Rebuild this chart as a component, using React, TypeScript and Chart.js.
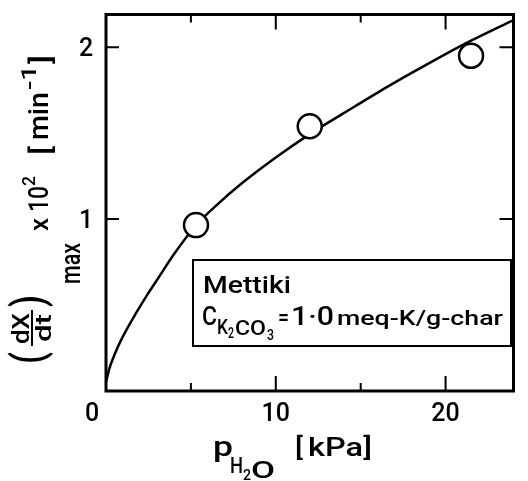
import { useEffect, useRef } from "react";
import { Chart, registerables } from "chart.js";

Chart.register(...registerables);

// fitted curve
const curveX = [0, 0.23, 0.7, 1.2, 1.75, 2.4, 3.1, 4, 5.3, 6.5, 8, 10, 12, 14, 16, 18, 20, 21.5, 24];
const curveY = [0.054, 0.14, 0.257, 0.355, 0.45, 0.555, 0.66, 0.795, 0.964, 1.08, 1.208, 1.358, 1.494, 1.616, 1.736, 1.85, 1.96, 2.038, 2.158];
// measured points
const pointX = [5.3, 12.0, 21.5];
const pointY = [0.965, 1.54, 1.95];
// ticks
const xTicks = [0, 10, 20];
const xMinorTicks = [5, 15];
const yTicks = [1, 2];

const FONT = 'Roboto, "Liberation Sans", Arial, sans-serif';
const WEIGHT = 500;

function fitText(ctx: CanvasRenderingContext2D, s: string, x: number, y: number, size: number, width?: number) {
  ctx.font = `${WEIGHT} ${size}px ${FONT}`;
  if (width) {
    const m = ctx.measureText(s).width;
    ctx.save();
    ctx.translate(x, y);
    ctx.scale(width / m, 1);
    ctx.fillText(s, 0, 0);
    ctx.restore();
  } else {
    ctx.fillText(s, x, y);
  }
}

// rotated text: baseline at screen x = bx, text starts at screen y = by (bottom) and runs upward over `len` px
function vText(ctx: CanvasRenderingContext2D, s: string, bx: number, by: number, size: number, len?: number) {
  ctx.save();
  ctx.rotate(-Math.PI / 2);
  fitText(ctx, s, -by, bx, size, len);
  ctx.restore();
}

const framePlugin = {
  id: "frame",
  afterDatasetsDraw(chart: any) {
    const ctx: CanvasRenderingContext2D = chart.ctx;
    const { left, right, top, bottom } = chart.chartArea;
    const xs = chart.scales.x;
    const ys = chart.scales.y;
    ctx.save();
    ctx.strokeStyle = "#000";
    ctx.lineWidth = 3;
    ctx.strokeRect(left, top, right - left, bottom - top);
    ctx.lineWidth = 2;
    ctx.beginPath();
    const tickX = (v: number, len: number) => {
      const px = xs.getPixelForValue(v);
      ctx.moveTo(px, bottom);
      ctx.lineTo(px, bottom - len);
      ctx.moveTo(px, top);
      ctx.lineTo(px, top + len);
    };
    xTicks.filter((v) => v > 0).forEach((v) => tickX(v, 15));
    xMinorTicks.forEach((v) => tickX(v, 8));
    yTicks.forEach((v) => {
      const py = ys.getPixelForValue(v);
      ctx.moveTo(left, py);
      ctx.lineTo(left + 13, py);
      ctx.moveTo(right, py);
      ctx.lineTo(right - 14, py);
    });
    ctx.stroke();

    // tick labels
    ctx.fillStyle = "#000";
    ctx.font = `500 25px ${FONT}`;
    ctx.textBaseline = "alphabetic";
    ctx.textAlign = "center";
    xTicks.forEach((v) => {
      const px = xs.getPixelForValue(v) + (v === 0 ? -14 : 0);
      ctx.fillText(String(v), px, 421);
    });
    yTicks.forEach((v) => {
      const py = ys.getPixelForValue(v);
      ctx.fillText(String(v), 86, py + 9);
    });
    ctx.restore();
  },
  afterDraw(chart: any) {
    const ctx: CanvasRenderingContext2D = chart.ctx;
    ctx.save();
    ctx.fillStyle = "#000";
    ctx.strokeStyle = "#000";
    ctx.textAlign = "left";
    ctx.textBaseline = "alphabetic";

    // legend box
    ctx.lineWidth = 2;
    ctx.strokeRect(193, 260, 318, 86);
    fitText(ctx, "Mettiki", 203, 293, 23, 88);
    fitText(ctx, "C", 202, 325, 25, 15);
    fitText(ctx, "K", 217, 334, 20, 11);
    fitText(ctx, "2", 228, 338, 14, 6);
    fitText(ctx, "CO", 235, 335, 20, 31);
    fitText(ctx, "3", 267, 340, 14, 7);
    fitText(ctx, "=", 278, 325, 22, 11);
    fitText(ctx, "1·0", 291, 325, 26, 43);
    fitText(ctx, "meq-K/g-char", 337, 325, 21, 166);

    // x title
    fitText(ctx, "p", 213, 456, 27, 20);
    fitText(ctx, "H", 230, 473, 22, 13);
    fitText(ctx, "2", 243, 480, 15, 8);
    fitText(ctx, "O", 251, 478, 23, 24);
    fitText(ctx, "[", 295, 456, 26, 8);
    fitText(ctx, "kPa]", 308, 456, 26, 64);

    // y title (rotated)
    vText(ctx, "(", 43, 364, 44, 12);
    vText(ctx, "dX", 29, 344, 23, 31);
    vText(ctx, "dt", 51, 342, 22, 28);
    ctx.lineWidth = 2;
    ctx.beginPath();
    ctx.moveTo(32, 346);
    ctx.lineTo(32, 310);
    ctx.stroke();
    vText(ctx, ")", 43, 307, 44, 12);
    vText(ctx, "max", 80, 284, 27, 41);
    vText(ctx, "x", 48, 231, 25, 13);
    vText(ctx, "10", 48, 212, 27, 26);
    vText(ctx, "2", 35, 186, 18, 10);
    vText(ctx, "[", 51, 155, 27, 9);
    vText(ctx, "min", 48, 140, 27, 48);
    vText(ctx, "-1", 36, 90, 20, 25);
    vText(ctx, "]", 51, 64, 27, 9);
    ctx.restore();
  },
};

export default function App() {
  const ref = useRef<HTMLCanvasElement>(null);
  useEffect(() => {
    document.body.style.margin = "0";
    const chart = new Chart(ref.current as HTMLCanvasElement, {
      type: "scatter",
      data: {
        datasets: [
          {
            data: pointX.map((x, i) => ({ x, y: pointY[i] })),
            pointRadius: 12,
            pointBackgroundColor: "#fff",
            pointBorderColor: "#000",
            pointBorderWidth: 2.5,
            showLine: false,
            order: 0,
          },
          {
            data: curveX.map((x, i) => ({ x, y: curveY[i] })),
            showLine: true,
            pointRadius: 0,
            borderColor: "#000",
            borderWidth: 2.5,
            cubicInterpolationMode: "monotone",
            order: 1,
          },
        ],
      } as any,
      options: {
        animation: false,
        responsive: false,
        devicePixelRatio: 1,
        layout: { padding: { left: 0, right: 3, top: 13, bottom: 0 } },
        plugins: { legend: { display: false }, tooltip: { enabled: false } },
        scales: {
          x: {
            type: "linear",
            min: 0,
            max: 24,
            afterFit: (s: any) => {
              s.height = 90;
            },
            afterBuildTicks: (s: any) => {
              s.ticks = xTicks.map((v) => ({ value: v }));
            },
            grid: { display: false, drawTicks: false },
            border: { display: false },
            ticks: { display: false },
          },
          y: {
            type: "linear",
            min: 0,
            max: 2.19,
            afterFit: (s: any) => {
              s.width = 106;
            },
            afterBuildTicks: (s: any) => {
              s.ticks = yTicks.map((v) => ({ value: v }));
            },
            grid: { display: false, drawTicks: false },
            border: { display: false },
            ticks: { display: false },
          },
        },
      } as any,
      plugins: [framePlugin],
    });
    return () => chart.destroy();
  }, []);
  return <canvas ref={ref} width={528} height={481} style={{ display: "block" }} />;
}
